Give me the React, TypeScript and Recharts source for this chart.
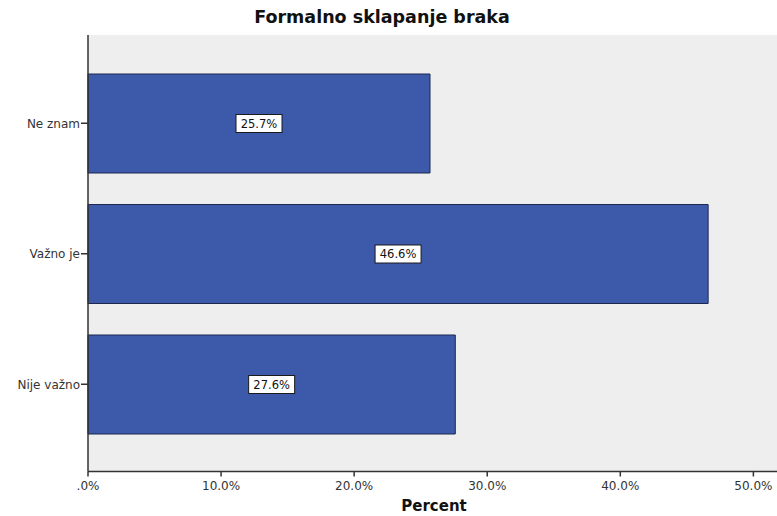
import { BarChart, Bar, XAxis, YAxis, CartesianGrid, LabelList } from 'recharts'

const categories = ['Ne znam', 'Važno je', 'Nije važno']
const percents = [25.7, 46.6, 27.6]
const xTicks = [0, 10, 20, 30, 40, 50]

const data = categories.map((name, i) => ({ name, pct: percents[i] }))

const FONT = '"DejaVu Sans", sans-serif'

const fmtTick = (v: number) => (v === 0 ? '.0%' : `${v.toFixed(1)}%`)

function BoxLabel(props: any) {
  const { x, y, width, height, value } = props
  const cx = x + width / 2
  const cy = y + height / 2
  return (
    <g>
      <rect x={cx - 23} y={cy - 9} width={46} height={18} fill="#fff" stroke="#1a1a1a" strokeWidth={1} />
      <text x={cx} y={cy + 4} textAnchor="middle" fontSize={11.5} fontFamily={FONT} fill="#111">
        {`${Number(value).toFixed(1)}%`}
      </text>
    </g>
  )
}

export default function App() {
  return (
    <div style={{ position: 'absolute', left: 0, top: 0, width: 777, height: 516, overflow: 'hidden', background: '#fff' }}>
      <div style={{
        position: 'absolute', top: 7, left: 0, width: 764, textAlign: 'center',
        fontFamily: FONT, fontWeight: 'bold', fontSize: 17.5, color: '#111',
      }}>
        Formalno sklapanje braka
      </div>
      <BarChart
        width={780}
        height={516}
        data={data}
        layout="vertical"
        margin={{ top: 35, right: 0, left: 0, bottom: 0 }}
        barCategoryGap={16}
      >
        <CartesianGrid fill="#eeeeee" horizontal={false} vertical={false} />
        <XAxis
          xAxisId="top"
          orientation="top"
          type="number"
          domain={[0, 52]}
          height={0}
          tick={false}
          tickLine={false}
          axisLine={{ stroke: '#8a8a8a', strokeWidth: 1.5 }}
        />
        <XAxis
          type="number"
          domain={[0, 52]}
          ticks={xTicks}
          tickFormatter={fmtTick}
          height={44.5}
          tickSize={5}
          tickMargin={5}
          interval={0}
          axisLine={{ stroke: '#333', strokeWidth: 1.5 }}
          tickLine={{ stroke: '#333', strokeWidth: 1.5 }}
          tick={{ fontSize: 12, fontFamily: FONT, fill: '#333' }}
          label={{ value: 'Percent', position: 'insideBottom', offset: 5, fontSize: 15, fontWeight: 'bold', fontFamily: FONT, fill: '#111' }}
        />
        <YAxis
          type="category"
          dataKey="name"
          width={88}
          padding={{ top: 23, bottom: 22 }}
          tickSize={7}
          tickMargin={1}
          axisLine={{ stroke: '#333', strokeWidth: 1.5 }}
          tickLine={{ stroke: '#333', strokeWidth: 1.5 }}
          tick={{ fontSize: 12, fontFamily: FONT, fill: '#333' }}
        />
        <Bar dataKey="pct" fill="#3d59aa" stroke="#1d2850" strokeWidth={1} isAnimationActive={false}>
          <LabelList dataKey="pct" content={BoxLabel} />
        </Bar>
      </BarChart>
    </div>
  )
}
